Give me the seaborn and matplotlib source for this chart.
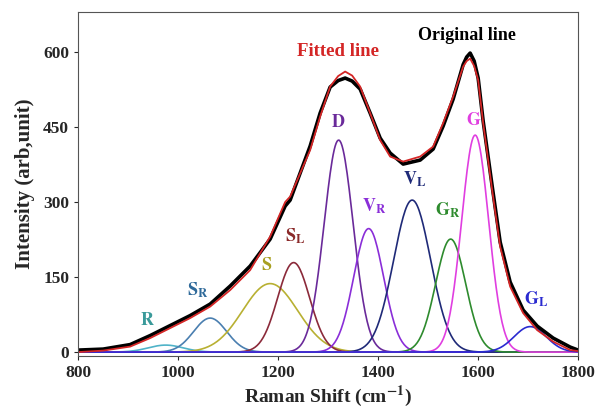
import numpy as np
import pandas as pd
import matplotlib
matplotlib.use("Agg")
import matplotlib.pyplot as plt
import seaborn as sns

# fitted components: name, centre (cm-1), height, gaussian sigma
peak_names = ["R", "SR", "S", "SL", "D", "VR", "VL", "GR", "G", "GL"]
peak_centres = [975, 1064, 1184, 1231, 1321, 1381, 1468, 1545, 1594, 1704]
peak_heights = [14, 68, 137, 179, 424, 247, 304, 226, 434, 51]
peak_sigmas = [35, 33, 55, 32, 29, 30, 37, 30, 27, 32]
peak_colors = ["#4fb3c8", "#4a7fb0", "#b8b032", "#8b2a3a", "#6a2a9a",
               "#8a2ed8", "#1f2a78", "#2e8b2e", "#e03ee0", "#2a2ad0"]

# peak labels (text, x, y, colour)
label_texts = [r"$\mathbf{R}$", r"$\mathbf{S_R}$", r"$\mathbf{S}$", r"$\mathbf{S_L}$",
               r"$\mathbf{D}$", r"$\mathbf{V_R}$", r"$\mathbf{V_L}$", r"$\mathbf{G_R}$",
               r"$\mathbf{G}$", r"$\mathbf{G_L}$"]
label_x = [938, 1040, 1176, 1234, 1320, 1392, 1474, 1540, 1592, 1716]
label_y = [46, 104, 156, 212, 442, 272, 326, 264, 446, 86]
label_colors = ["#3a9a9a", "#2f6a9a", "#a8a020", "#8b2a2a", "#6a2a9a",
                "#8a2ed8", "#1f2a78", "#2e8b2e", "#e03ee0", "#2a2ad0"]

# fitted line
fit_x = [800, 850, 904, 944, 984, 1024, 1064, 1104, 1144, 1184, 1214, 1224, 1264,
         1284, 1304, 1320, 1334, 1348, 1364, 1384, 1404, 1424, 1450, 1484, 1510,
         1530, 1550, 1570, 1577, 1584, 1592, 1600, 1610, 1628, 1644, 1664, 1690,
         1718, 1750, 1784, 1800]
fit_y = [0, 3, 11, 28, 48, 68, 91, 124, 164, 231, 300, 311, 404,
         471, 531, 552, 561, 553, 531, 478, 424, 391, 381, 391, 411,
         458, 511, 571, 582, 587, 572, 544, 458, 324, 211, 131, 78,
         44, 21, 4, 2]

orig_y = [4, 6, 15, 33, 53, 73, 96, 132, 172, 226, 292, 304, 412,
          478, 530, 543, 548, 542, 526, 478, 428, 398, 376, 384, 406,
          452, 506, 575, 590, 598, 582, 548, 462, 332, 220, 140, 84,
          52, 28, 10, 4]

sns.set_style("ticks")
plt.rcParams["font.family"] = ["Liberation Serif", "DejaVu Serif"]
plt.rcParams["font.weight"] = "bold"
plt.rcParams["mathtext.fontset"] = "stix"

fig, ax = plt.subplots(figsize=(6.01, 4.16), dpi=100)
fig.subplots_adjust(left=0.13, right=0.962, top=0.971, bottom=0.144)

xs = np.arange(800, 1801, 2)
for name, c, h, s, col in zip(peak_names, peak_centres, peak_heights, peak_sigmas, peak_colors):
    comp = pd.DataFrame({"x": xs, "y": h * np.exp(-(xs - c) ** 2 / (2 * s ** 2))})
    sns.lineplot(data=comp, x="x", y="y", color=col, linewidth=1.2, ax=ax)

orig = pd.DataFrame({"x": fit_x, "y": orig_y})
sns.lineplot(data=orig, x="x", y="y", color="black", linewidth=2.6, ax=ax)
fit = pd.DataFrame({"x": fit_x, "y": fit_y})
sns.lineplot(data=fit, x="x", y="y", color="#d42626", linewidth=1.3, ax=ax)

for t, x, y, col in zip(label_texts, label_x, label_y, label_colors):
    ax.text(x, y, t, color=col, fontsize=13, ha="center", va="bottom")

ax.text(1320, 584, "Fitted line", color="#d42626", fontsize=13.5, fontweight="bold", ha="center", va="bottom")
ax.text(1578, 616, "Original line", color="black", fontsize=13, fontweight="bold", ha="center", va="bottom")

ax.set_xlim(800, 1800)
ax.set_ylim(-8, 680)
ax.set_xticks([800, 1000, 1200, 1400, 1600, 1800])
ax.set_yticks([0, 150, 300, 450, 600])
ax.tick_params(labelsize=12.5, length=3, direction="out")
for lab in ax.get_xticklabels() + ax.get_yticklabels():
    lab.set_fontweight("bold")
ax.set_xlabel(r"Raman Shift (cm$^{\mathbf{-1}}$)", fontsize=14, fontweight="bold", labelpad=2)
ax.set_ylabel("Intensity (arb,unit)", fontsize=15, fontweight="bold", labelpad=6)
for sp in ax.spines.values():
    sp.set_color("#555555")

plt.savefig("out.png", dpi=100)
